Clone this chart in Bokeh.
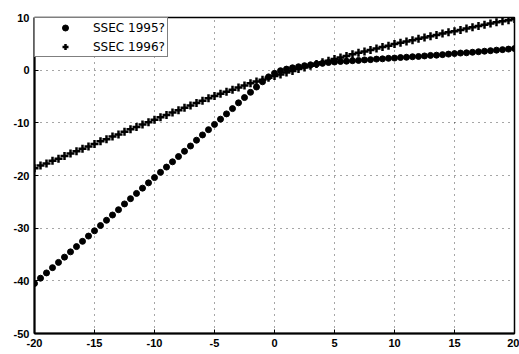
from bokeh.plotting import figure
from bokeh.models import Range1d, FixedTicker, Legend, LegendItem
from bokeh.embed import file_html
from bokeh.resources import INLINE

x_vals = [-20, -19.5, -19, -18.5, -18, -17.5, -17, -16.5, -16, -15.5,
          -15, -14.5, -14, -13.5, -13, -12.5, -12, -11.5, -11, -10.5,
          -10, -9.5, -9, -8.5, -8, -7.5, -7, -6.5, -6, -5.5,
          -5, -4.5, -4, -3.5, -3, -2.5, -2, -1.5, -1, -0.5,
          0, 0.5, 1, 1.5, 2, 2.5, 3, 3.5, 4, 4.5,
          5, 5.5, 6, 6.5, 7, 7.5, 8, 8.5, 9, 9.5,
          10, 10.5, 11, 11.5, 12, 12.5, 13, 13.5, 14, 14.5,
          15, 15.5, 16, 16.5, 17, 17.5, 18, 18.5, 19, 19.5, 20]

ssec_1995 = [-40.5, -39.5, -38.5, -37.5, -36.5, -35.5, -34.5, -33.5, -32.5, -31.5,
             -30.5, -29.5, -28.5, -27.5, -26.5, -25.4, -24.4, -23.4, -22.4, -21.4,
             -20.4, -19.4, -18.4, -17.4, -16.4, -15.4, -14.4, -13.3, -12.3, -11.3,
             -10.3, -9.3, -8.3, -7.3, -6.2, -5.2, -4.2, -3.2, -2.2, -1.3,
             -0.6, -0.1, 0.2, 0.45, 0.65, 0.85, 1.0, 1.15, 1.3, 1.45,
             1.55, 1.65, 1.7, 1.8, 1.85, 1.95, 2.0, 2.1, 2.15, 2.25,
             2.3, 2.4, 2.45, 2.55, 2.6, 2.7, 2.8, 2.85, 2.95, 3.05,
             3.15, 3.25, 3.3, 3.4, 3.5, 3.6, 3.7, 3.8, 3.9, 4.0, 4.1]

ssec_1996 = [-18.6, -18.1, -17.7, -17.2, -16.8, -16.3, -15.8, -15.4, -14.9, -14.5,
             -14.0, -13.5, -13.1, -12.6, -12.2, -11.7, -11.2, -10.8, -10.3, -9.9,
             -9.4, -8.95, -8.5, -8.05, -7.6, -7.15, -6.7, -6.25, -5.8, -5.35,
             -4.9, -4.5, -4.1, -3.7, -3.3, -2.9, -2.5, -2.15, -1.8, -1.45,
             -1.1, -0.8, -0.45, -0.15, 0.2, 0.5, 0.85, 1.15, 1.5, 1.8,
             2.1, 2.4, 2.7, 3.0, 3.3, 3.55, 3.85, 4.1, 4.4, 4.65,
             4.95, 5.2, 5.45, 5.7, 5.95, 6.2, 6.45, 6.7, 6.95, 7.2,
             7.4, 7.65, 7.9, 8.15, 8.4, 8.6, 8.85, 9.1, 9.3, 9.5, 9.7]

x_ticks = [-20, -15, -10, -5, 0, 5, 10, 15, 20]
y_ticks = [-50, -40, -30, -20, -10, 0, 10]
legend_labels = ["SSEC 1995?", "SSEC 1996?"]

p = figure(width=519, height=354, output_backend="svg", toolbar_location=None,
           x_range=Range1d(-20, 20), y_range=Range1d(-50, 10),
           min_border_left=34, min_border_right=5, min_border_top=17, min_border_bottom=21)

p.background_fill_color = "white"
p.border_fill_color = "white"
p.outline_line_color = "black"
p.outline_line_width = 1.5

for ax in (p.xaxis[0], p.yaxis[0]):
    ax.major_tick_in = 4
    ax.major_tick_out = 0
    ax.minor_tick_in = 0
    ax.minor_tick_out = 0
    ax.axis_line_color = "black"
    ax.axis_line_width = 2
    ax.major_tick_line_color = "black"
    ax.major_label_text_font = "Liberation Sans"
    ax.major_label_text_font_size = "11px"
    ax.major_label_text_font_style = "bold"
    ax.major_label_text_color = "black"

p.xaxis[0].ticker = FixedTicker(ticks=x_ticks)
p.yaxis[0].ticker = FixedTicker(ticks=y_ticks)
p.xaxis[0].major_label_overrides = {t: str(t) for t in x_ticks}
p.yaxis[0].major_label_overrides = {t: str(t) for t in y_ticks}
p.xaxis[0].major_label_standoff = 5
p.yaxis[0].major_label_standoff = 5

p.xgrid.ticker = FixedTicker(ticks=x_ticks)
p.ygrid.ticker = FixedTicker(ticks=y_ticks)
for g in (p.xgrid[0], p.ygrid[0]):
    g.grid_line_color = "black"
    g.grid_line_alpha = 0.7
    g.grid_line_dash = "1 5"
    g.grid_line_width = 1

r1 = p.scatter(x_vals, ssec_1995, marker="circle", size=6, color="black")
r2 = p.scatter(x_vals, ssec_1996, marker="cross", size=8, line_width=2.5, color="black")

legend = Legend(items=[LegendItem(label=legend_labels[0], renderers=[r1]),
                       LegendItem(label=legend_labels[1], renderers=[r2])],
                location="top_left", margin=0, padding=2, spacing=4,
                glyph_width=56, glyph_height=15, label_height=15, label_width=69,
                label_standoff=0, border_line_color="black", border_line_width=1,
                background_fill_color="white", background_fill_alpha=1,
                label_text_font="DejaVu Sans", label_text_font_size="12px",
                label_text_color="black")
p.add_layout(legend, "center")

open("out.html", "w").write(file_html(p, INLINE))
